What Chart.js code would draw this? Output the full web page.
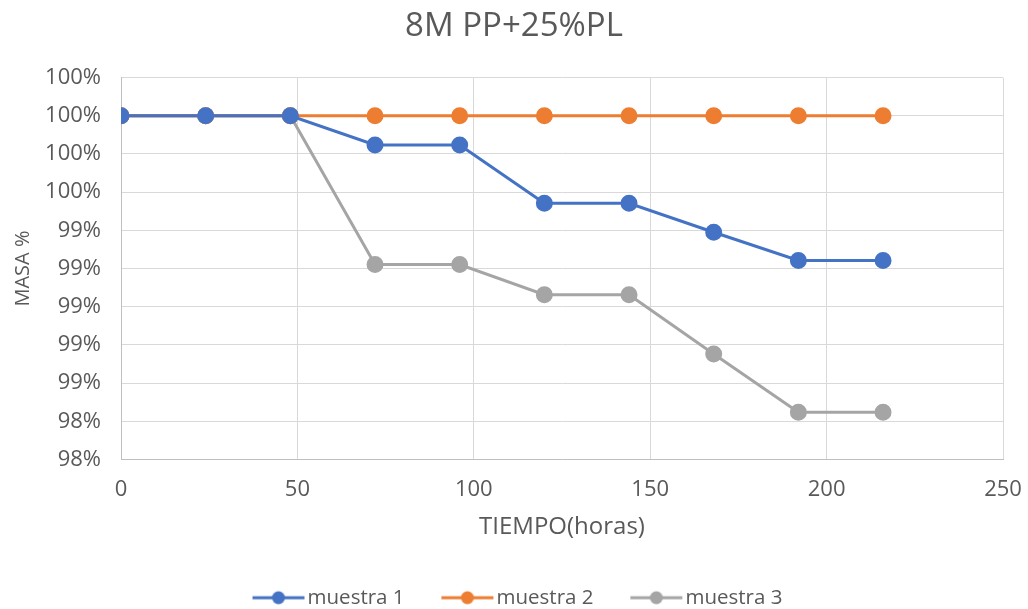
<!DOCTYPE html>
<html><head><meta charset="utf-8">
<script src="https://cdn.jsdelivr.net/npm/chart.js@4/dist/chart.umd.min.js"></script>
<style>html,body{margin:0;padding:0;background:#fff}#wrap{width:1028px;height:609px}</style>
</head><body><div id="wrap"><canvas id="c" width="1028" height="609"></canvas></div>
<script>
const hours = [0, 24, 48, 72, 96, 120, 144, 168, 192, 216];
const muestra1 = [1.0, 1.0, 1.0, 0.99847, 0.99847, 0.99542, 0.99542, 0.9939, 0.99242, 0.99242];
const muestra2 = [1.0, 1.0, 1.0, 1.0, 1.0, 1.0, 1.0, 1.0, 1.0, 1.0];
const muestra3 = [1.0, 1.0, 1.0, 0.99221, 0.99221, 0.99063, 0.99063, 0.98753, 0.98447, 0.98447];
const seriesNames = ['muestra 1', 'muestra 2', 'muestra 3'];
const colors = ['#4472C4', '#ED7D31', '#A5A5A5'];
const FONT = '"Open Sans", "Noto Sans", sans-serif';

function legendIcon(color){
  const c = document.createElement('canvas'); c.width = 80; c.height = 16;
  const g = c.getContext('2d');
  g.strokeStyle = color; g.lineWidth = 3;
  g.beginPath(); g.moveTo(21, 8); g.lineTo(73, 8); g.stroke();
  g.fillStyle = color; g.beginPath(); g.arc(47, 8, 6.5, 0, Math.PI*2); g.fill();
  return c;
}
const icons = colors.map(legendIcon);
const mk = (arr) => hours.map((h, i) => ({x: h, y: arr[i]}));
const data = {datasets: [muestra1, muestra2, muestra3].map((arr, i) => ({
  label: seriesNames[i], data: mk(arr), showLine: true,
  borderColor: colors[i], backgroundColor: colors[i],
  borderWidth: 3, pointRadius: 7, pointHoverRadius: 7, tension: 0
}))};
new Chart(document.getElementById('c'), {
  type: 'scatter', data,
  options: {
    responsive: false, animation: false, devicePixelRatio: 1,
    layout: {padding: {left: 4, right: 4, top: 4, bottom: -9}},
    plugins: {
      title: {display: true, text: '8M PP+25%PL', color: '#595959',
        font: {family: FONT, size: 33, weight: 'normal'},
        padding: {top: 3, bottom: 31}},
      legend: {position: 'bottom',
        labels: {usePointStyle: true, pointStyleWidth: 51.75, color: '#595959', padding: 30,
          font: {family: FONT, size: 20.5},
          generateLabels: (chart) => chart.data.datasets.map((d, i) => ({
            text: d.label, pointStyle: icons[i], fillStyle: colors[i], strokeStyle: colors[i],
            lineWidth: 0, hidden: false, datasetIndex: i, fontColor: '#595959'
          }))}},
      tooltip: {enabled: false}
    },
    scales: {
      x: {type: 'linear', min: 0, max: 250,
        afterFit: (s) => { s.paddingRight = 25; s.height = 98; },
        ticks: {stepSize: 50, color: '#595959', font: {family: FONT, size: 22}, padding: 17},
        grid: {color: '#d9d9d9', lineWidth: 1, drawTicks: false},
        border: {color: '#bfbfbf'},
        title: {display: true, text: 'TIEMPO(horas)', color: '#595959',
          font: {family: FONT, size: 24}, padding: {top: 10, bottom: 16}}},
      y: {min: 0.982, max: 1.002,
        afterFit: (s) => { s.width = 117; },
        ticks: {stepSize: 0.002, color: '#595959', font: {family: FONT, size: 22}, padding: 20,
          callback: (v) => Math.round(v * 100) + '%'},
        grid: {color: '#d9d9d9', lineWidth: 1, drawTicks: false},
        border: {color: '#bfbfbf'},
        title: {display: true, text: 'MASA %', color: '#595959',
          font: {family: FONT, size: 20}, padding: {top: 7, bottom: 11}}}
    }
  }
});
</script></body></html>
